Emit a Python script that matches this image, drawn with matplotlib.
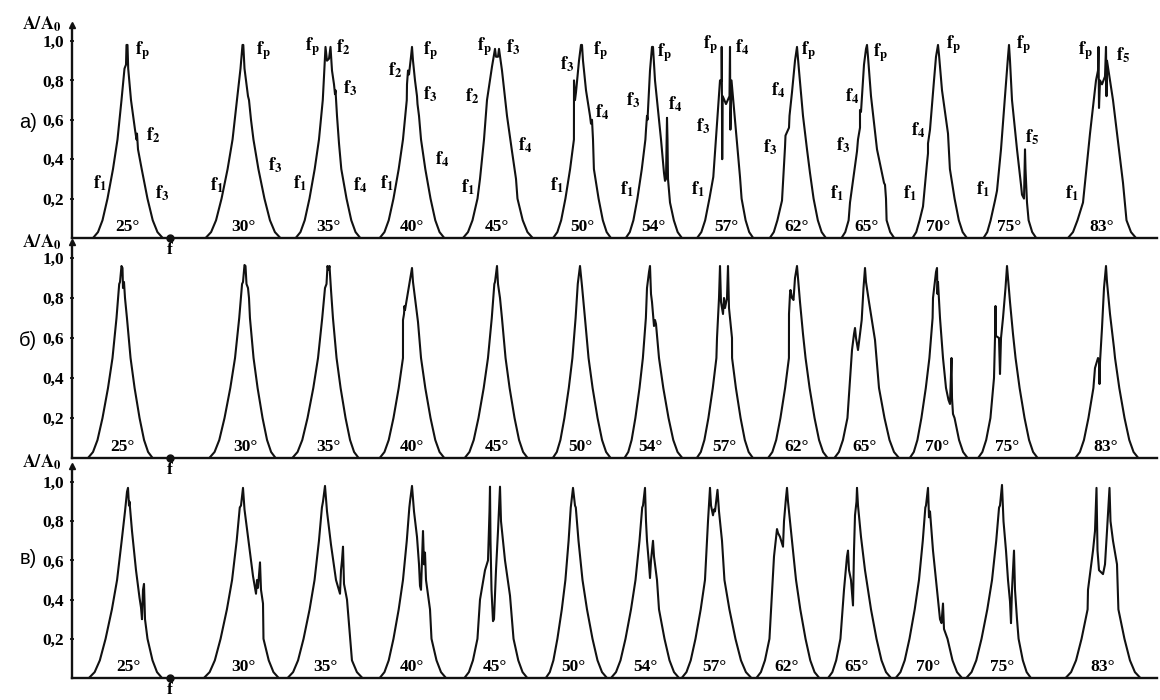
import numpy as np
import matplotlib.pyplot as plt

plt.rcParams['mathtext.fontset'] = 'stix'
plt.rcParams['font.family'] = ['Liberation Serif', 'DejaVu Serif']

# angle labels of the 13 spectra in each row
angles = ['25°', '30°', '35°', '40°', '45°', '50°', '54°', '57°', '62°', '65°', '70°', '75°', '83°']

# common flank of a spectral line: amplitude and half-width (frequency units)
prof_y = [0.00, 0.03, 0.09, 0.20, 0.35, 0.50, 0.70, 0.87]
prof_dx = [34, 29, 24.5, 19.5, 14, 9.5, 5.5, 2.8]

# ---- row а) ----
centers_a = [127, 243, 328, 412, 497, 582, 653, 726, 797, 867, 938, 1009, 1102]
wl_a = [1.0, 1.1, 0.95, 0.95, 1.0, 0.85, 0.8, 0.85, 0.8, 0.75, 0.75, 0.75, 1.0]
wr_a = [1.05, 1.1, 0.95, 0.95, 1.05, 0.85, 0.85, 0.8, 0.85, 0.8, 0.85, 0.8, 1.0]
tops_a = [
    [(-2.5, 0.86), (-1, 0.88), (-0.5, 0.98), (0.5, 0.98), (1.2, 0.86), (4, 0.7), (8, 0.55), (9.5, 0.5), (10, 0.53), (11, 0.45)],
    [(-2.5, 0.86), (-0.5, 0.98), (0.3, 0.98), (1.5, 0.86), (3, 0.8), (5, 0.72), (6, 0.7), (8, 0.6)],
    [(-4, 0.82), (-2.5, 0.97), (-1, 0.9), (1, 0.91), (2.5, 0.97), (4, 0.85), (6, 0.78), (7, 0.73), (7.5, 0.75), (9, 0.62), (11, 0.48)],
    [(-5, 0.78), (-4, 0.85), (-3, 0.83), (-1, 0.92), (0, 0.97), (1, 0.9), (3, 0.8), (5, 0.72), (5.5, 0.68), (7, 0.62)],
    [(-17, 0.3), (-13, 0.5), (-10, 0.7), (-5, 0.87), (-2, 0.96), (-1, 0.92), (1, 0.92), (2, 0.96), (5, 0.85), (10, 0.62), (15, 0.44), (19, 0.3)],
    [(-8, 0.8), (-7, 0.7), (-6, 0.74), (-3, 0.9), (-1, 0.98), (0, 0.98), (1, 0.9), (4, 0.75), (8, 0.62), (9, 0.58), (10, 0.6), (11, 0.5)],
    [(-7, 0.55), (-6, 0.62), (-5.5, 0.6), (-3, 0.85), (-1, 0.97), (0, 0.97), (2, 0.8), (5, 0.65), (8, 0.5), (11, 0.33), (12, 0.29), (13, 0.3), (14, 0.61), (14.5, 0.5), (15, 0.3), (17, 0.18)],
    [(-12.7, 0.31), (-6, 0.8), (-4.3, 0.8), (-4.3, 0.97), (-3.8, 0.4), (-3.3, 0.72), (0, 0.68), (3.5, 0.72), (4, 0.97), (4.4, 0.55), (5.5, 0.8), (14, 0.31)],
    [(-15, 0.19), (-12, 0.46), (-11.5, 0.52), (-8, 0.56), (-7.5, 0.62), (-5, 0.74), (-2, 0.9), (0, 0.97), (2, 0.85), (6, 0.62), (10, 0.45), (13, 0.33)],
    [(-17, 0.18), (-10, 0.44), (-9, 0.5), (-7, 0.56), (-7, 0.65), (-6, 0.64), (-3, 0.88), (-1, 0.96), (0, 0.98), (1, 0.92), (4, 0.72), (10, 0.45), (17, 0.28), (18, 0.27), (19, 0.2)],
    [(-15, 0.16), (-11, 0.38), (-10, 0.43), (-10, 0.48), (-8, 0.55), (-4, 0.8), (-2, 0.92), (0, 0.98), (1, 0.93), (4, 0.75), (10, 0.53)],
    [(-14, 0.19), (-12, 0.24), (-8, 0.45), (-4, 0.72), (-1, 0.92), (0, 0.98), (1, 0.9), (3, 0.7), (8, 0.45), (12, 0.27), (13, 0.22), (15, 0.2), (16, 0.45), (16.5, 0.35), (18, 0.18)],
    [(-19, 0.18), (-12, 0.53), (-6, 0.8), (-4, 0.85), (-3.5, 0.97), (-3, 0.66), (-2, 0.8), (0, 0.78), (3, 0.82), (4, 0.97), (4.5, 0.72), (5, 0.9), (11, 0.7), (21, 0.28)],
]

# ---- row б) ----
centers_b = [122, 245, 328, 412, 497, 580, 650, 724, 797, 865, 937, 1007, 1106]
wl_b = [1.0, 1.05, 1.05, 0.95, 0.95, 0.8, 0.75, 0.8, 0.85, 0.9, 0.8, 0.85, 0.9]
wr_b = [0.9, 0.9, 0.9, 0.95, 0.9, 0.9, 0.95, 0.85, 0.9, 1.0, 0.9, 0.9, 0.95]
tops_b = [
    [(-2, 0.88), (-0.5, 0.96), (0.5, 0.95), (1, 0.85), (2, 0.88), (3, 0.8)],
    [(-2, 0.88), (-0.5, 0.965), (0.5, 0.96), (1.5, 0.87), (3, 0.85), (4, 0.8)],
    [(-3, 0.85), (-1.5, 0.87), (-0.5, 0.96), (0.5, 0.94), (1.5, 0.96), (3, 0.84)],
    [(-9, 0.69), (-8, 0.72), (-7.5, 0.76), (-7, 0.74), (-5, 0.8), (-3, 0.86), (-1, 0.92), (0, 0.95), (1, 0.88), (3, 0.8), (6, 0.68)],
    [(-2, 0.88), (0, 0.96), (1, 0.87), (3, 0.8)],
    [(-2, 0.88), (0, 0.96), (2, 0.86)],
    [(-3, 0.85), (-1, 0.93), (0, 0.96), (1, 0.82), (2, 0.78), (3, 0.72), (4, 0.66), (5, 0.69), (6, 0.67), (9, 0.5)],
    [(-7, 0.6), (-5, 0.8), (-4, 0.96), (-3, 0.78), (-1, 0.72), (0, 0.8), (1, 0.75), (3, 0.8), (4, 0.96), (5, 0.75), (8, 0.6)],
    [(-8, 0.72), (-7, 0.82), (-6.5, 0.84), (-5, 0.8), (-3.5, 0.79), (-2, 0.9), (0, 0.96), (1, 0.9), (3, 0.78), (6, 0.62)],
    [(-13, 0.54), (-11, 0.62), (-10, 0.65), (-9, 0.6), (-7, 0.54), (-5, 0.62), (-3.3, 0.69), (-1.5, 0.85), (0, 0.95), (1, 0.88), (4, 0.78), (10, 0.59)],
    [(-4, 0.8), (-1, 0.93), (0, 0.95), (0.5, 0.82), (1, 0.88), (3, 0.7), (6, 0.5), (9, 0.35), (11.5, 0.29), (13, 0.27), (14.5, 0.5), (15, 0.3), (16, 0.22)],
    [(-13, 0.4), (-12, 0.6), (-11.5, 0.76), (-11, 0.61), (-8, 0.6), (-7, 0.42), (-6, 0.6), (-4, 0.7), (-1.5, 0.85), (0, 0.96), (1, 0.9), (3, 0.78), (6, 0.62)],
    [(-11, 0.45), (-8, 0.5), (-7, 0.49), (-6.5, 0.37), (-6, 0.48), (-4, 0.65), (-2, 0.85), (0, 0.96), (1, 0.88), (4, 0.72), (8, 0.55)],
]

# ---- row в) ----
centers_c = [128, 243, 325, 412, 495, 573, 645, 714, 787, 857, 928, 1002, 1103]
wl_c = [1.15, 1.15, 1.1, 0.95, 0.9, 0.8, 1.0, 0.95, 0.9, 0.85, 0.95, 1.05, 1.1]
wr_c = [1.0, 1.05, 1.1, 1.0, 0.95, 1.0, 1.0, 1.1, 0.95, 1.0, 1.0, 0.85, 1.1]
tops_c = [
    [(-3, 0.85), (-1, 0.95), (0, 0.97), (1, 0.88), (1.5, 0.9), (4, 0.75), (8, 0.55), (11.5, 0.41), (13, 0.36), (14, 0.3), (15, 0.45), (16, 0.48), (17, 0.3), (18, 0.26)],
    [(-2, 0.88), (0, 0.97), (1.5, 0.86), (5, 0.72), (10, 0.52), (13, 0.43), (14, 0.5), (15, 0.46), (17, 0.59), (18, 0.45), (20, 0.38)],
    [(-2, 0.9), (0, 0.98), (2, 0.85), (6, 0.68), (11, 0.5), (15, 0.43), (16, 0.55), (17, 0.6), (18, 0.67), (19, 0.48), (22, 0.4)],
    [(-2, 0.9), (0, 0.98), (2, 0.85), (5, 0.72), (7, 0.58), (8, 0.47), (9, 0.45), (10, 0.6), (11, 0.75), (12, 0.58), (13, 0.64), (14, 0.5), (18, 0.35)],
    [(-15, 0.4), (-10, 0.55), (-7, 0.6), (-5.5, 0.85), (-5, 0.976), (-4.5, 0.7), (-3.5, 0.45), (-2, 0.29), (-1, 0.3), (1, 0.55), (3, 0.75), (5, 0.976), (6, 0.8), (10, 0.6), (15, 0.42)],
    [(-2, 0.88), (0, 0.97), (2, 0.88)],
    [(-2, 0.88), (0, 0.97), (1, 0.8), (2, 0.7), (4, 0.58), (5, 0.51), (6, 0.6), (8, 0.7), (9, 0.62), (12, 0.5)],
    [(-6, 0.8), (-4, 0.97), (-3, 0.88), (-1, 0.83), (0, 0.86), (1, 0.85), (3.5, 0.96), (5, 0.85), (8, 0.7)],
    [(-13, 0.62), (-10, 0.76), (-9, 0.74), (-7, 0.72), (-4, 0.67), (-3, 0.8), (-1, 0.92), (0, 0.97), (1, 0.9), (4, 0.75), (8, 0.55)],
    [(-13, 0.45), (-10, 0.62), (-9, 0.65), (-8, 0.55), (-6, 0.5), (-4, 0.37), (-3, 0.65), (-2, 0.83), (-0.5, 0.9), (0, 0.97), (1, 0.88), (4, 0.72), (8, 0.55)],
    [(-2, 0.88), (0, 0.97), (1, 0.82), (2, 0.85), (5, 0.65), (9, 0.45), (12, 0.3), (13.5, 0.28), (15, 0.38), (16, 0.25)],
    [(-2, 0.88), (0, 0.985), (1.5, 0.8), (4, 0.65), (6, 0.5), (8, 0.39), (9, 0.28), (10, 0.45), (12, 0.65), (13, 0.45), (15, 0.3)],
    [(-15, 0.45), (-10, 0.65), (-8, 0.75), (-6.5, 0.97), (-5.5, 0.65), (-4, 0.55), (0, 0.53), (2, 0.58), (4, 0.75), (6.5, 0.97), (7.5, 0.8), (10, 0.7), (14, 0.58)],
]

# frequency labels of row а): subscript, x, y
flab_text = ['p', '2', '1', '3',
             'p', '1', '3',
             'p', '2', '3', '1', '4',
             'p', '2', '3', '4', '1',
             'p', '3', '2', '4', '1',
             '3', 'p', '4', '1',
             'p', '3', '4', '1',
             'p', '4', '3', '1',
             'p', '4', '3',
             'p', '4', '3', '1',
             'p', '4', '1',
             'p', '5', '1',
             'p', '5', '1']
flab_x = [142, 153, 100, 162,
          263, 217, 275,
          312, 343, 350, 300, 360,
          430, 395, 430, 442, 387,
          484, 513, 472, 525, 468,
          567, 600, 602, 557,
          664, 633, 675, 627,
          710, 742, 703, 698,
          808, 778, 770,
          880, 852, 843, 837,
          953, 918, 910,
          1023, 1032, 983,
          1085, 1123, 1072]
flab_y = [0.95, 0.52, 0.28, 0.23,
          0.95, 0.27, 0.37,
          0.97, 0.97, 0.76, 0.28, 0.27,
          0.95, 0.85, 0.73, 0.40, 0.28,
          0.97, 0.97, 0.72, 0.47, 0.26,
          0.88, 0.95, 0.64, 0.27,
          0.94, 0.70, 0.68, 0.25,
          0.98, 0.97, 0.57, 0.25,
          0.95, 0.75, 0.46,
          0.94, 0.72, 0.47, 0.23,
          0.98, 0.55, 0.23,
          0.98, 0.51, 0.25,
          0.95, 0.93, 0.23]

yticks = [0.2, 0.4, 0.6, 0.8, 1.0]
ytick_labels = ['0,2', '0,4', '0,6', '0,8', '1,0']


def build(c, wl, wr, top):
    x0, y0 = top[0]
    x1, y1 = top[-1]
    left = [(-d * wl, y) for y, d in zip(prof_y, prof_dx) if y < y0 and -d * wl < x0]
    right = [(d * wr, y) for y, d in zip(prof_y, prof_dx) if y < y1 and d * wr > x1][::-1]
    pts = left + list(top) + right
    return [c + p[0] for p in pts], [p[1] for p in pts]


W, H = 1160, 700
fig = plt.figure(figsize=(W / 100, H / 100), dpi=100)

# (baseline px, px per unit, centers, wl, wr, tops, panel letter, letter y px, A/A0 y px)
rows = [
    (238, 197, centers_a, wl_a, wr_a, tops_a, 'а)', 122, 24),
    (458, 200, centers_b, wl_b, wr_b, tops_b, 'б)', 340, 242),
    (678, 196, centers_c, wl_c, wr_c, tops_c, 'в)', 558, 462),
]
x_left, x_right = 72, 1157
ytop = 1.08
bold = dict(fontweight='bold', family=['Liberation Serif', 'DejaVu Serif'])

axes = []
for base, scale, cents, wls, wrs, tops, letter, ly, ay in rows:
    top_px = base - ytop * scale
    ax = fig.add_axes([x_left / W, 1 - base / H, (x_right - x_left) / W, (base - top_px) / H])
    ax.set_xlim(x_left, x_right)
    ax.set_ylim(0, ytop)
    ax.patch.set_alpha(0)
    for s in ['top', 'right']:
        ax.spines[s].set_visible(False)
    for s in ['left', 'bottom']:
        ax.spines[s].set_linewidth(1.7)
        ax.spines[s].set_color('#111111')
    ax.set_xticks([])
    ax.set_yticks(yticks)
    ax.set_yticklabels(ytick_labels, fontsize=12.5, **bold)
    ax.tick_params(axis='y', direction='inout', length=3, width=1.2, pad=4)

    for c, wl, wr, top, lab in zip(cents, wls, wrs, tops, angles):
        xs, ys = build(c, wl, wr, top)
        ax.plot(xs, ys, color='#111111', lw=1.5, solid_joinstyle='round')
        ax.text(c, 0.055, lab, ha='center', va='center', fontsize=12.5, **bold)

    # arrow tip on the amplitude axis, point on the frequency axis
    ax.plot([x_left], [ytop], marker='^', ms=5, color='#111111', clip_on=False)
    ax.plot([170], [0], marker='o', ms=5, color='#111111', clip_on=False)
    ax.annotate('f', xy=(170, 0), xytext=(0, -3), textcoords='offset points',
                ha='center', va='top', fontsize=12.5, **bold)

    fig.text(28 / W, 1 - ly / H, letter, ha='center', va='center', fontsize=14.5,
             family=['Liberation Sans', 'DejaVu Sans'])
    fig.text(42 / W, 1 - ay / H, r'$\mathbf{A/A_0}$', ha='center', va='center', fontsize=13)
    axes.append(ax)

# f-labels on row а)
for t, x, y in zip(flab_text, flab_x, flab_y):
    axes[0].text(x, y, r'$\mathbf{f_{%s}}$' % t, ha='center', va='center', fontsize=13)

fig.savefig('out.png', dpi=100)
